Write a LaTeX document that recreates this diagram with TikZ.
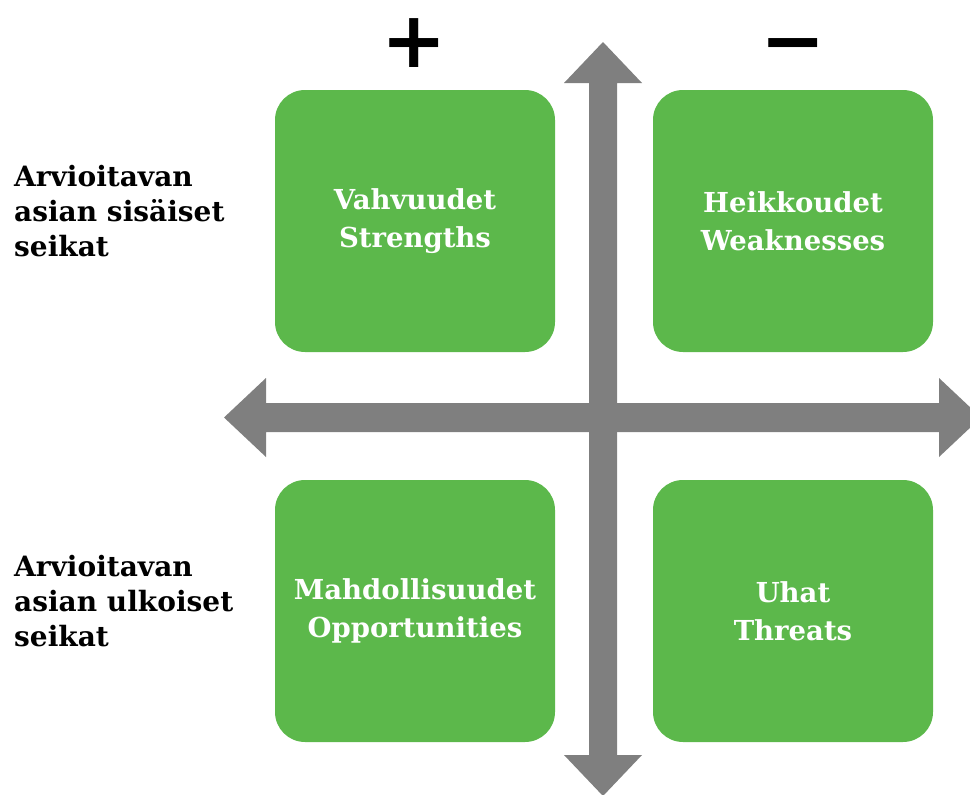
\documentclass[tikz,border=0pt]{standalone}
\usepackage{fontspec}
\setmainfont{DejaVu Serif}
\newfontfamily\signfont{DejaVu Sans}
\definecolor{swotgreen}{HTML}{5CB84B}
\definecolor{axisgray}{HTML}{7F7F7F}
\tikzset{
  quad/.style={fill=swotgreen, rounded corners=30pt, minimum width=280pt,
    minimum height=262pt, text=white, align=center,
    font=\bfseries\fontsize{27.5}{38}\selectfont},
  side/.style={anchor=north west, align=left, inner sep=0pt,
    font=\bfseries\fontsize{28}{35}\selectfont},
  sign/.style={anchor=base, font=\signfont\bfseries\fontsize{78}{78}\selectfont, inner sep=0pt},
  axis/.style={fill=axisgray},
}
\begin{document}
\begin{tikzpicture}[x=1pt,y=-1pt]
  \useasboundingbox (0,0) rectangle (970,795);
  \clip (0,0) rectangle (970,795);
  % axes
  \fill[axis] (224,417.5) -- (266,378) -- (266,403) -- (939,403) -- (939,378)
    -- (981,417.5) -- (939,457) -- (939,432) -- (266,432) -- (266,457) -- cycle;
  \fill[axis] (603,42) -- (642,83) -- (617,83) -- (617,755) -- (642,755)
    -- (603,796) -- (564,755) -- (589,755) -- (589,83) -- (564,83) -- cycle;
  % quadrants
  \node[quad] (strengths) at (415,221) {Vahvuudet\\Strengths};
  \node[quad] (weaknesses) at (793,221) {Heikkoudet\\Weaknesses};
  \node[quad] (opportunities) at (415,611) {Mahdollisuudet\\Opportunities};
  \node[quad] (threats) at (793,611) {Uhat\\Threats};
  % signs
  \node[sign] (plus) at (414,67) {+};
  \node[sign] (minus) at (793,67) {−};
  % row labels
  \node[side] (internal) at (14,165) {Arvioitavan\\asian sisäiset\\seikat};
  \node[side] (external) at (14,555) {Arvioitavan\\asian ulkoiset\\seikat};
\end{tikzpicture}
\end{document}
